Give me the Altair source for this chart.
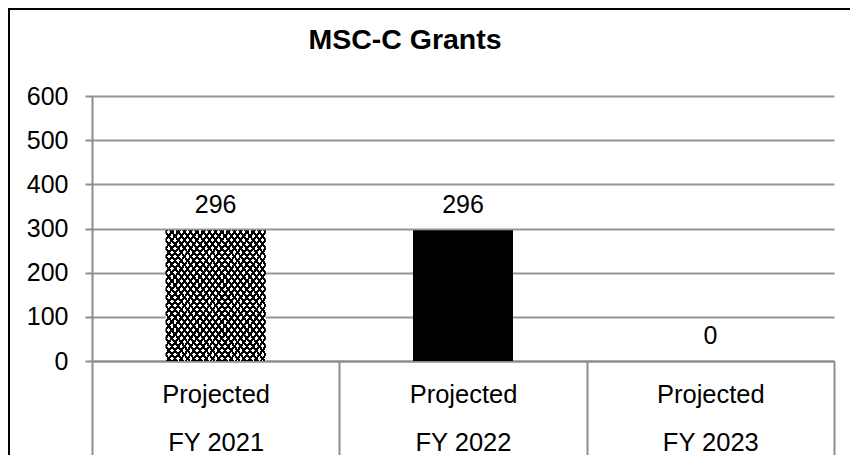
import altair as alt
import pandas as pd

# ---- data ----
periods = ["Projected", "Projected", "Projected"]
years = ["FY 2021", "FY 2022", "FY 2023"]
grants = [296, 296, 0]
fill_kind = ["pattern", "solid", "solid"]

FONT = "Liberation Sans, Arial, sans-serif"
GRID = "#959595"

df = pd.DataFrame({
    "cat": [p + "|" + y for p, y in zip(periods, years)],
    "value": grants,
    "kind": fill_kind,
})

# crosshatch stripes (style only)
N = 32
f = 0.42
stops_a, stops_b = [], []
for k in range(N):
    a, b, c = k / N, (k + f) / N, (k + 1) / N
    stops_a += [alt.GradientStop(offset=a, color="black"), alt.GradientStop(offset=b, color="black"),
                alt.GradientStop(offset=b, color="white"), alt.GradientStop(offset=c, color="white")]
    stops_b += [alt.GradientStop(offset=a, color="black"), alt.GradientStop(offset=b, color="black"),
                alt.GradientStop(offset=b, color="rgba(0,0,0,0)"), alt.GradientStop(offset=c, color="rgba(0,0,0,0)")]

x = alt.X("cat:N", sort=None, title=None,
          scale=alt.Scale(paddingInner=0, paddingOuter=0),
          axis=alt.Axis(labelAngle=0, tickBand="extent", tickSize=95, tickColor="#8c8c8c", tickWidth=2,
                        domainColor="#8c8c8c", domainWidth=2,
                        labelExpr="split(datum.label, '|')", labelLineHeight=48,
                        labelFontSize=25.5, labelFont=FONT, labelColor="black",
                        labelBaseline="alphabetic", labelPadding=-54, labelLimit=300))
y = alt.Y("value:Q", title=None, scale=alt.Scale(domain=[0, 600]),
          axis=alt.Axis(values=list(range(0, 601, 100)), tickSize=7, tickColor="#8c8c8c", tickWidth=2,
                        domainColor="#8c8c8c", domainWidth=2, gridColor=GRID, gridWidth=2,
                        labelFontSize=25, labelFont=FONT, labelColor="black", labelPadding=17))

base = alt.Chart(df).encode(x=x, y=y)

stripe1 = base.transform_filter("datum.kind == 'pattern'").mark_bar(
    size=100, color=alt.LinearGradient(gradient="linear", stops=stops_a, x1=0, y1=0, x2=1, y2=1))
stripe2 = base.transform_filter("datum.kind == 'pattern'").mark_bar(
    size=100, color=alt.LinearGradient(gradient="linear", stops=stops_b, x1=1, y1=0, x2=0, y2=1))
solid = base.transform_filter("datum.kind == 'solid'").mark_bar(size=100, color="black")
labels = base.mark_text(dy=-17, baseline="alphabetic", fontSize=25, font=FONT, color="black").encode(
    text=alt.Text("value:Q", format="d"))

border = alt.Chart(pd.DataFrame({"b": [0]})).mark_rect(fillOpacity=0, stroke="black", strokeWidth=2).encode(
    x=alt.value(-83), x2=alt.value(900), y=alt.value(-87), y2=alt.value(500))

chart = alt.layer(stripe1, stripe2, solid, labels, border).properties(
    width=742, height=265,
    title=alt.Title("MSC-C Grants", anchor="middle", frame="group", fontSize=28.5, fontWeight="bold",
                    font=FONT, color="black", baseline="alphabetic", offset=32, dx=-58, dy=101),
    autosize=alt.AutoSizeParams(type="none"),
    padding={"left": 84, "top": 88, "right": 16, "bottom": 94},
).configure_view(strokeWidth=0)

chart.save("out.html", embed_options={"renderer": "svg", "actions": False})
